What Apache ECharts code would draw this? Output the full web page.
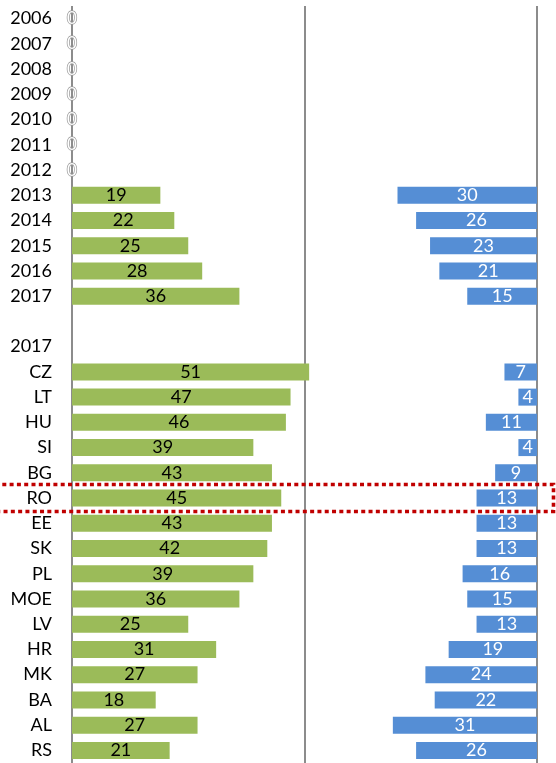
<!DOCTYPE html>
<html>
<head>
<meta charset="utf-8">
<script src="https://cdn.jsdelivr.net/npm/echarts@6/dist/echarts.min.js"></script>
<style>
html,body{margin:0;padding:0;background:#fff;}
#chart{width:556px;height:763px;}
</style>
</head>
<body>
<div id="chart"></div>
<script>
var categories = ['2006','2007','2008','2009','2010','2011','2012','2013','2014','2015','2016','2017','','2017',
  'CZ','LT','HU','SI','BG','RO','EE','SK','PL','MOE','LV','HR','MK','BA','AL','RS'];
var greenValues = [0,0,0,0,0,0,0,19,22,25,28,36,null,null,
  51,47,46,39,43,45,43,42,39,36,25,31,27,18,27,21];
var blueValues = [0,0,0,0,0,0,0,30,26,23,21,15,null,null,
  7,4,11,4,9,13,13,13,16,15,13,19,24,22,31,26];
var highlightCategoryIndex = 19; // RO

var FONT = 'Lato';
var chart = echarts.init(document.getElementById('chart'), null, {renderer:'canvas'});

function greenData(){
  return greenValues.map(function(v){
    if (v === 0) {
      return {value: 0, label: {show: true, position: 'inside', color: '#ffffff',
        textBorderColor: '#9a9a9a', textBorderWidth: 1.5, fontSize: 17}};
    }
    return v;
  });
}
function blueData(){
  return blueValues.map(function(v){
    if (v === 0) return {value: 0, label: {show: false}};
    return v;
  });
}

var option = {
  animation: false,
  backgroundColor: '#ffffff',
  grid: {left: 72, right: 19, top: 6, height: 758, containLabel: false},
  xAxis: [
    {type: 'value', min: 0, max: 100, interval: 50, position: 'top',
     axisLine: {show: false}, axisTick: {show: false}, axisLabel: {show: false},
     splitLine: {show: true, lineStyle: {color: '#8c8c8c', width: 2}}},
    {type: 'value', min: 0, max: 100, interval: 50, inverse: true, position: 'bottom',
     axisLine: {show: false}, axisTick: {show: false}, axisLabel: {show: false},
     splitLine: {show: false}}
  ],
  yAxis: {
    type: 'category', inverse: true, data: categories,
    axisLine: {show: false}, axisTick: {show: false}, splitLine: {show: false},
    axisLabel: {color: '#000000', fontFamily: FONT, fontSize: 18, margin: 20, interval: 0}
  },
  series: [
    {type: 'bar', name: 'green', xAxisIndex: 0, data: greenData(), barWidth: 17, barGap: '-100%',
     itemStyle: {color: '#9BBB59'},
     label: {show: true, position: 'inside', color: '#000000', fontFamily: FONT, fontSize: 18}},
    {type: 'bar', name: 'blue', xAxisIndex: 1, data: blueData(), barWidth: 17, barGap: '-100%',
     itemStyle: {color: '#558ED5'},
     label: {show: true, position: 'inside', color: '#ffffff', fontFamily: FONT, fontSize: 18}}
  ]
};
chart.setOption(option);

// highlight box around the RO row
var cy = chart.convertToPixel({yAxisIndex: 0}, highlightCategoryIndex);
var cyNext = chart.convertToPixel({yAxisIndex: 0}, highlightCategoryIndex + 1);
var band = Math.abs(cyNext - cy);
var h = band + 1.8;
chart.setOption({
  graphic: [{
    type: 'rect', z: 100,
    shape: {x: -5, y: cy - h / 2, width: 558.5, height: h},
    style: {fill: 'none', stroke: '#C00000', lineWidth: 3.6, lineDash: [4, 3.3]}
  }]
});
</script>
</body>
</html>
